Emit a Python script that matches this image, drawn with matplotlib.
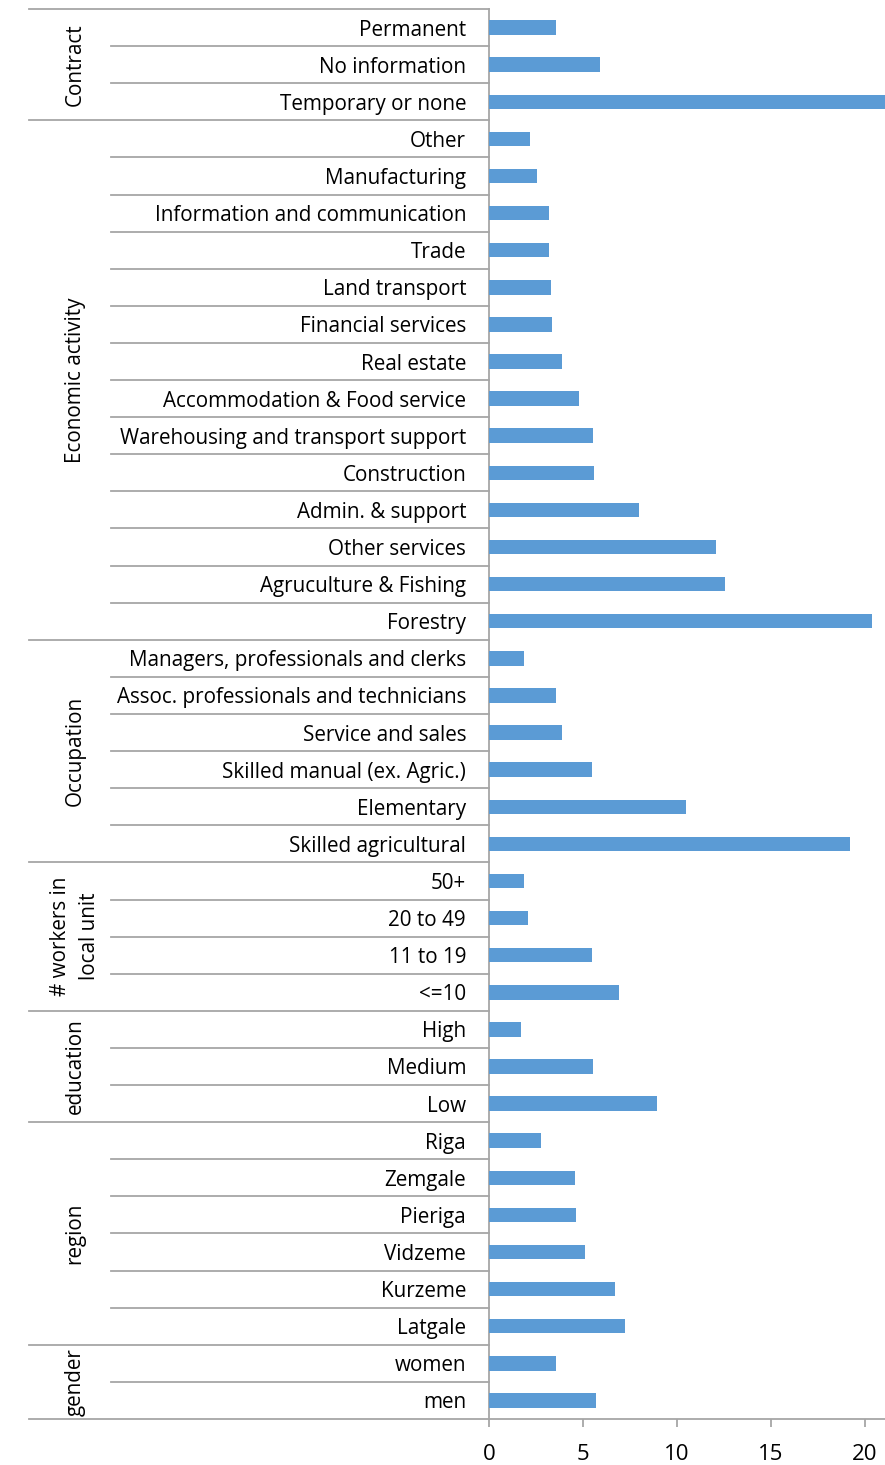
import matplotlib
matplotlib.use("Agg")
import matplotlib.pyplot as plt
from matplotlib.transforms import blended_transform_factory

# ---- data ----
groups = ["Contract", "Economic activity", "Occupation", "# workers in\nlocal unit",
          "education", "region", "gender"]
group_categories = [
    ["Permanent", "No information", "Temporary or none"],
    ["Other", "Manufacturing", "Information and communication", "Trade", "Land transport",
     "Financial services", "Real estate", "Accommodation & Food service",
     "Warehousing and transport support", "Construction", "Admin. & support",
     "Other services", "Agruculture & Fishing", "Forestry"],
    ["Managers, professionals and clerks", "Assoc. professionals and technicians",
     "Service and sales", "Skilled manual (ex. Agric.)", "Elementary", "Skilled agricultural"],
    ["50+", "20 to 49", "11 to 19", "<=10"],
    ["High", "Medium", "Low"],
    ["Riga", "Zemgale", "Pieriga", "Vidzeme", "Kurzeme", "Latgale"],
    ["women", "men"],
]
group_values = [
    [3.56, 5.93, 22.0],
    [2.20, 2.57, 3.18, 3.21, 3.28, 3.34, 3.87, 4.79, 5.53, 5.61, 8.00, 12.10, 12.54, 20.37],
    [1.85, 3.56, 3.90, 5.50, 10.48, 19.19],
    [1.88, 2.07, 5.50, 6.90],
    [1.72, 5.55, 8.96],
    [2.77, 4.59, 4.63, 5.13, 6.70, 7.23],
    [3.56, 5.68],
]
x_ticks = [0, 5, 10, 15, 20]

categories = [c for g in group_categories for c in g]
values = [v for g in group_values for v in g]

# ---- figure ----
W, H = 885, 1465
DPI = 100
plt.rcParams['font.family'] = ['Open Sans', 'DejaVu Sans']
fig = plt.figure(figsize=(W / DPI, H / DPI), dpi=DPI)

x0_px, top_px, bot_px = 489, 9, 1419
px_per_unit = 18.8
xmax = 25
right_px = x0_px + xmax * px_per_unit
ax = fig.add_axes([x0_px / W, 1 - bot_px / H, (right_px - x0_px) / W, (bot_px - top_px) / H])

n = len(categories)
ys = list(range(n))
ax.barh(ys, values, height=0.39, color="#5B9BD5", zorder=3)
ax.set_xlim(0, xmax)
ax.set_ylim(n - 0.5, -0.5)

line_col = "#A6A6A6"
for s in ["top", "right"]:
    ax.spines[s].set_visible(False)
for s in ["left", "bottom"]:
    ax.spines[s].set_color(line_col)
    ax.spines[s].set_linewidth(1.3)

lab_fs = 14.9
ax.set_yticks(ys)
ax.set_yticklabels(categories, fontsize=lab_fs, color="#000000")
ax.tick_params(axis="y", length=0, pad=16.5)
for t in ax.get_yticklabels():
    t.set_y(t.get_position()[1])
ax.set_xticks(x_ticks)
ax.set_xticklabels([str(t) for t in x_ticks], fontsize=16, color="#000000")
ax.tick_params(axis="x", length=6, width=1.3, color=line_col, pad=12)

tr = blended_transform_factory(fig.transFigure, ax.transData)
xin = 111 / W
xout = 29 / W
xax = x0_px / W

start = 0
for gname, cats in zip(groups, group_categories):
    end = start + len(cats)
    ax.plot([xout, xax], [start - 0.5, start - 0.5], transform=tr, color=line_col,
            lw=1.3, clip_on=False)
    for b in range(start + 1, end):
        ax.plot([xin, xax], [b - 0.5, b - 0.5], transform=tr, color=line_col,
                lw=1.3, clip_on=False)
    ax.text(75 / W, (start + end - 1) / 2, gname, transform=tr, rotation=90,
            ha="center", va="center", fontsize=lab_fs, color="#000000",
            multialignment="center", linespacing=1.5)
    start = end
ax.plot([xout, xax], [n - 0.5, n - 0.5], transform=tr, color=line_col, lw=1.3, clip_on=False)

fig.savefig("out.png", dpi=DPI)
